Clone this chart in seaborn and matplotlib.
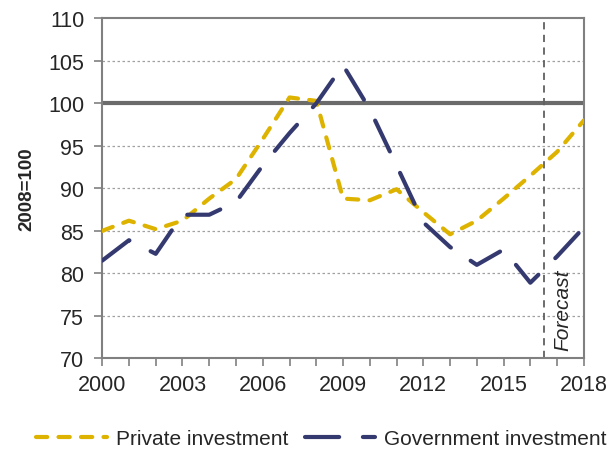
import numpy as np
import pandas as pd
import matplotlib
matplotlib.use("Agg")
import matplotlib.pyplot as plt
import seaborn as sns

#%% data
years = list(range(2000, 2019))
private = [85.0, 86.2, 85.2, 86.2, 88.8, 91.1, 95.8, 100.7, 100.3, 88.8,
           88.6, 89.9, 87.2, 84.6, 86.2, 88.8, 91.5, 94.3, 98.0]
government = [81.5, 83.9, 82.3, 86.9, 86.9, 88.4, 92.7, 96.5, 100.0, 104.5,
              99.3, 92.7, 86.0, 83.1, 81.0, 82.8, 78.9, 82.0, 85.4]
forecast_year = 2016.5

df = pd.DataFrame({'year': years, 'Private investment': private,
                   'Government investment': government})
df_long = df.melt(id_vars='year', var_name='series', value_name='index')

#%% plot
sns.set_style('white')
plt.rcParams['font.family'] = ['Liberation Sans', 'DejaVu Sans']

fig, ax = plt.subplots(figsize=(6.12, 4.52), dpi=100)
fig.subplots_adjust(left=0.167, right=0.954, top=0.957, bottom=0.205)

grey = '#808080'
yellow = '#ddb300'
navy = '#343a70'
for y in range(75, 110, 5):
    ax.axhline(y, color='#a0a0a0', lw=0.9, ls=(0, (2, 2)), zorder=0)
ax.axhline(100, color='#6b6b6b', lw=3, zorder=1)

sns.lineplot(data=df_long, x='year', y='index', hue='series',
             palette={'Private investment': yellow, 'Government investment': navy},
             ax=ax, lw=3, legend=False, zorder=3)
ax.lines[-2].set_dashes([2.7, 2.7])
ax.lines[-2].set_dash_capstyle('round')
ax.lines[-1].set_dashes([8.2, 5.7])
ax.lines[-1].set_dash_capstyle('round')

ax.axvline(forecast_year, color='#606060', lw=1.3, ls=(0, (4, 3)), zorder=2)
ax.text(2017.2, 71, 'Forecast', rotation=90, style='italic', fontsize=15,
        ha='center', va='bottom')

ax.set_xlim(2000, 2018)
ax.set_ylim(70, 110)
ax.set_xticks(range(2000, 2019, 3))
ax.set_xticks(range(2000, 2019), minor=True)
ax.set_yticks(range(70, 111, 5))
ax.tick_params(axis='both', which='both', direction='out', length=6, width=1.2,
               color=grey, labelsize=15.5, left=True, bottom=True)
ax.tick_params(axis='x', pad=5)
ax.tick_params(axis='y', pad=7)
for s in ax.spines.values():
    s.set_color(grey)
    s.set_linewidth(1.5)
ax.set_xlabel('')
ax.set_ylabel('2008=100', fontsize=13.5, fontweight='bold', labelpad=9)

handles = [plt.Line2D([], [], color=yellow, lw=3, dashes=[2.7, 2.7], dash_capstyle='round'),
           plt.Line2D([], [], color=navy, lw=3, dashes=[8.2, 5.7], dash_capstyle='round')]
fig.legend(handles, ['Private investment', 'Government investment'], loc='center',
           bbox_to_anchor=(0.525, 0.028), ncol=2, frameon=False, fontsize=15,
           handlelength=3.4, handletextpad=0.4, columnspacing=0.8)

fig.savefig('out.png', dpi=100)
